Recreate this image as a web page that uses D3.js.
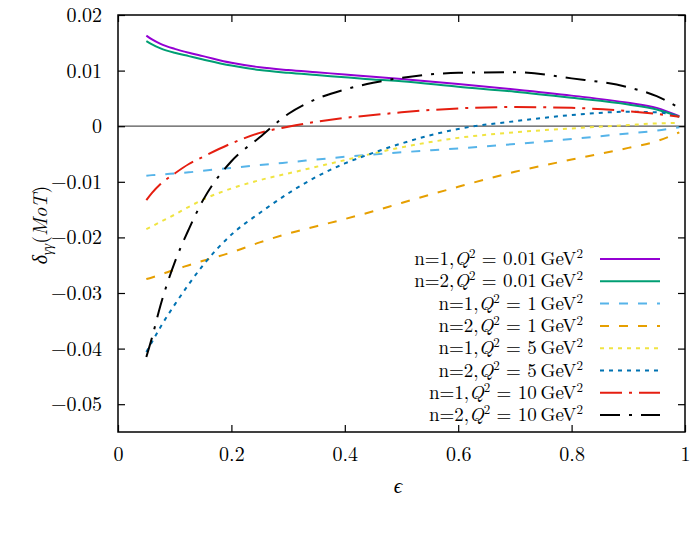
<!DOCTYPE html>
<html><head><meta charset="utf-8">
<script src="https://cdn.jsdelivr.net/npm/d3@7"></script>
</head>
<body style="margin:0;background:#fff"><svg id="c" width="696" height="535"></svg>
<script>
const eps = [0.05,0.06,0.075,0.1,0.125,0.15,0.2,0.25,0.3,0.35,0.4,0.45,0.5,0.6,0.7,0.8,0.9,0.95,0.99];
const n1q001 = [0.0163,0.0156,0.0148,0.0139,0.0132,0.0126,0.0114,0.0106,0.0101,0.0097,0.0093,0.0089,0.0085,0.0076,0.0066,0.0055,0.0042,0.0033,0.0018];
const n2q001 = [0.0153,0.0147,0.0140,0.0132,0.0126,0.0120,0.0109,0.0101,0.0096,0.0092,0.0088,0.0084,0.0081,0.0071,0.0062,0.0051,0.0039,0.0030,0.0017];
const n1q1 = [-0.0089,-0.0088,-0.0087,-0.0085,-0.0083,-0.0080,-0.0075,-0.0070,-0.0065,-0.0060,-0.0055,-0.0051,-0.0047,-0.0040,-0.0032,-0.0023,-0.0013,-0.0008,-0.0002];
const n2q1 = [-0.0275,-0.0272,-0.0267,-0.0258,-0.0250,-0.0242,-0.0227,-0.0209,-0.0193,-0.0180,-0.0167,-0.0153,-0.0138,-0.0109,-0.0082,-0.0060,-0.0039,-0.0027,-0.0011];
const n1q5 = [-0.0185,-0.0180,-0.0172,-0.0159,-0.0145,-0.0132,-0.0112,-0.0097,-0.0085,-0.0073,-0.0061,-0.0049,-0.0038,-0.0021,-0.0011,-0.0004,0.0002,0.0005,0.0006];
const n2q5 = [-0.0406,-0.0388,-0.0361,-0.0321,-0.0284,-0.0250,-0.0195,-0.0156,-0.0121,-0.0091,-0.0067,-0.0048,-0.0031,-0.0005,0.0009,0.0020,0.0026,0.0025,0.0018];
const n1q10 = [-0.0133,-0.0120,-0.0104,-0.0085,-0.0068,-0.0055,-0.0031,-0.0012,-0.0001,0.0008,0.0015,0.0020,0.0025,0.0032,0.00345,0.0033,0.0027,0.0022,0.0017];
const n2q10 = [-0.0415,-0.0380,-0.0322,-0.0245,-0.0185,-0.0133,-0.0063,-0.0020,0.0022,0.0049,0.0066,0.0078,0.0087,0.0096,0.0097,0.0086,0.0070,0.0054,0.0033];

const seriesN = ["1","2","1","2","1","2","1","2"];
const seriesQ = ["0.01","0.01","1","1","5","5","10","10"];
const seriesVals = [n1q001,n2q001,n1q1,n2q1,n1q5,n2q5,n1q10,n2q10];
const colors = ["#9400d3","#009e73","#56b4e9","#e69f00","#f0e442","#0072b2","#e51e10","#000000"];
const dashes = [null,null,"9,10","9,10","4,5","4,5","22,7,3,7","20,9,3,9"];

const xTicks = [0,0.2,0.4,0.6,0.8,1];
const yTicks = [0.02,0.01,0,-0.01,-0.02,-0.03,-0.04,-0.05];

const FONT = "'Latin Modern Roman'";
const svg = d3.select("#c");
const L=118, R=685, T=15, B=432;
const x = d3.scaleLinear().domain([0,1]).range([L,R]);
const y = d3.scaleLinear().domain([-0.055,0.02]).range([B,T]);

const fmt = v => v===0 ? "0" : (v<0 ? "\u2212"+String(Math.abs(v)) : String(v));

// zero line
svg.append("line").attr("x1",L).attr("x2",R).attr("y1",y(0)).attr("y2",y(0))
  .attr("stroke","#555").attr("stroke-width",1.3);

// axes (ticks inward)
const axL = d3.axisLeft(y).tickValues(yTicks).tickSize(-7).tickFormat(fmt).tickPadding(16);
const axR = d3.axisRight(y).tickValues(yTicks).tickSize(-7).tickFormat("");
const axB = d3.axisBottom(x).tickValues(xTicks).tickSize(-7).tickFormat(d=>String(d)).tickPadding(15);
const axT = d3.axisTop(x).tickValues(xTicks).tickSize(-7).tickFormat("");
function style(g){g.attr("font-family",null).attr("font-size",null);
  g.select(".domain").remove();g.selectAll(".tick line").attr("stroke","#000").attr("stroke-width",1.2);
  g.selectAll(".tick text").style("font-family",FONT).style("font-size","20px").attr("fill","#000");}
svg.append("g").attr("transform",`translate(${L},0)`).call(axL).call(style);
svg.append("g").attr("transform",`translate(${R},0)`).call(axR).call(style);
svg.append("g").attr("transform",`translate(0,${B})`).call(axB).call(style);
svg.append("g").attr("transform",`translate(0,${T})`).call(axT).call(style);

// curves
const line = d3.line().x((d,i)=>x(eps[i])).y(d=>y(d)).curve(d3.curveMonotoneX);
seriesVals.forEach((vals,k)=>{
  const p = svg.append("path").attr("d",line(vals)).attr("fill","none")
    .attr("stroke",colors[k]).attr("stroke-width",2);
  if(dashes[k]) p.attr("stroke-dasharray",dashes[k]);
});

// frame
svg.append("rect").attr("x",L).attr("y",T).attr("width",R-L).attr("height",B-T)
  .attr("fill","none").attr("stroke","#000").attr("stroke-width",1.5);

// legend
const legY0 = 259, legDy = 22.3;
seriesVals.forEach((vals,k)=>{
  const yy = legY0 + k*legDy;
  const t = svg.append("text").attr("x",583).attr("y",yy+6).attr("text-anchor","end")
    .style("font-family",FONT).style("font-size","19px");
  t.append("tspan").text("n="+seriesN[k]+",");
  t.append("tspan").style("font-style","italic").text("Q");
  t.append("tspan").style("font-size","13px").attr("dy",-7).text("2");
  t.append("tspan").attr("dy",7).text(" = "+seriesQ[k]+"\u2009GeV");
  t.append("tspan").style("font-size","13px").attr("dy",-7).text("2");
  const l = svg.append("line").attr("x1",600).attr("x2",660).attr("y1",yy).attr("y2",yy)
    .attr("stroke",colors[k]).attr("stroke-width",2);
  if(dashes[k]) l.attr("stroke-dasharray",dashes[k]);
});

// axis labels
svg.append("text").attr("x",398).attr("y",493).attr("text-anchor","middle").style("font-family",FONT)
  .style("font-size","21px").style("font-style","italic").text("\u03f5");
const yl = svg.append("text").attr("transform","translate(47,225) rotate(-90)").style("font-family",FONT)
  .attr("text-anchor","middle").style("font-size","20px");
yl.append("tspan").style("font-style","italic").text("\u03b4");
yl.append("tspan").style("font-style","italic").style("font-size","14px").attr("dy",5).text("\u03b3\u03b3");
yl.append("tspan").attr("dy",-5).text("(");
yl.append("tspan").style("font-style","italic").text("MoT");
yl.append("tspan").text(")");
</script></body></html>
